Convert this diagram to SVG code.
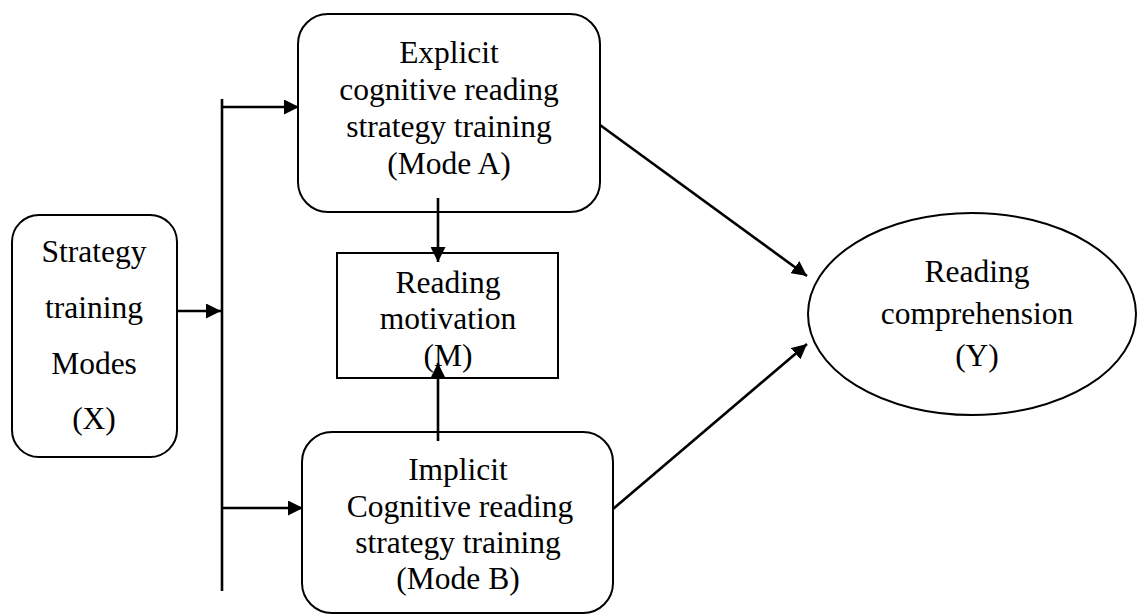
<svg xmlns="http://www.w3.org/2000/svg" width="1137" height="615" viewBox="0 0 1137 615">
<defs>
<style>
.box{fill:#fff;stroke:#000;stroke-width:2}
.t{font-family:"Liberation Serif","Times New Roman",serif;font-size:31.5px;fill:#000;text-anchor:middle}
.c{stroke:#000;stroke-width:2.6;fill:none}
</style>
<marker id="ah" markerWidth="15" markerHeight="15" refX="15" refY="7.5" orient="auto" markerUnits="userSpaceOnUse">
<path d="M0,0 L15,7.5 L0,15 Z" fill="#000"/>
</marker>
</defs>
<rect width="1137" height="615" fill="#fff"/>
<g id="nodeX">
<rect class="box" x="12" y="215" width="165" height="242" rx="27" ry="27"/>
<text class="t" x="94" y="262">Strategy</text>
<text class="t" x="94" y="318">training</text>
<text class="t" x="94" y="374">Modes</text>
<text class="t" x="94" y="429">(X)</text>
</g>
<g id="nodeA">
<rect class="box" x="298" y="14" width="302" height="198" rx="30" ry="30"/>
<text class="t" x="449" y="63">Explicit</text>
<text class="t" x="449" y="100">cognitive reading</text>
<text class="t" x="449" y="137">strategy training</text>
<text class="t" x="449" y="174">(Mode A)</text>
</g>
<g id="nodeM">
<rect class="box" x="337" y="253" width="221" height="125"/>
<text class="t" x="448" y="293">Reading</text>
<text class="t" x="448" y="329">motivation</text>
<text class="t" x="448" y="366">(M)</text>
</g>
<g id="nodeB">
<rect class="box" x="302" y="432" width="311" height="181" rx="30" ry="30"/>
<text class="t" x="458" y="480">Implicit</text>
<text class="t" x="460" y="517"> Cognitive reading</text>
<text class="t" x="458" y="553">strategy training</text>
<text class="t" x="458" y="589">(Mode B)</text>
</g>
<g id="nodeY">
<ellipse class="box" cx="972" cy="314" rx="164" ry="101"/>
<text class="t" x="977" y="282">Reading</text>
<text class="t" x="977" y="324">comprehension</text>
<text class="t" x="977" y="366">(Y)</text>
</g>
<g id="connectors">
<line class="c" x1="177" y1="311" x2="221" y2="311" marker-end="url(#ah)"/>
<line class="c" x1="222" y1="99" x2="222" y2="591"/>
<line class="c" x1="222" y1="107" x2="299" y2="107" marker-end="url(#ah)"/>
<line class="c" x1="222" y1="508" x2="303" y2="508" marker-end="url(#ah)"/>
<line class="c" x1="438" y1="198" x2="438" y2="262" marker-end="url(#ah)"/>
<line class="c" x1="438" y1="441" x2="438" y2="363" marker-end="url(#ah)"/>
<line class="c" x1="600" y1="125" x2="807" y2="276" marker-end="url(#ah)"/>
<line class="c" x1="613" y1="509" x2="807" y2="344" marker-end="url(#ah)"/>
</g>
</svg>
